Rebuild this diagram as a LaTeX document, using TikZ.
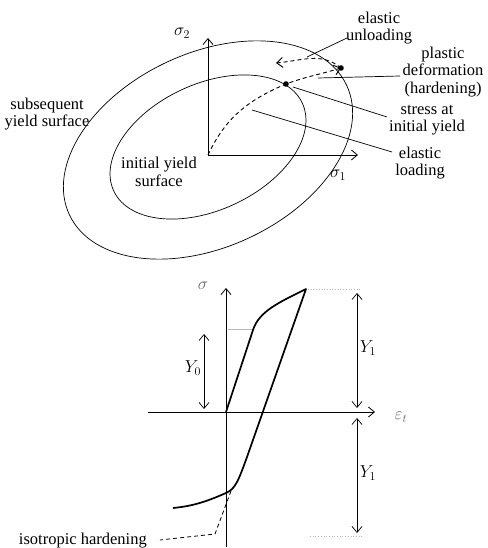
\documentclass[tikz,border=0pt]{standalone}
\usepackage{fontspec}
\setmainfont{Liberation Serif}
\usetikzlibrary{arrows.meta}

\begin{document}
\begin{tikzpicture}[x=1pt, y=1pt,
    >={Straight Barb[length=6pt, width=10pt]},
    lbl/.style={align=center, inner sep=0pt, font=\fontsize{16.5}{17.5}\selectfont},
    axis/.style={line width=0.8pt},
    thinline/.style={line width=0.7pt},
    loadpath/.style={line width=0.9pt, dash pattern=on 4pt off 3pt},
    curve/.style={line width=1.7pt, line join=round},
    guide/.style={gray!55, line width=0.7pt}]

  \useasboundingbox (0,0) rectangle (487,548);

  % --- Yield surfaces ---
  \coordinate (O) at (208,393);
  \draw[thinline, rotate around={25:(208,398)}] (208,398) ellipse [x radius=153pt, y radius=97pt];
  \draw[thinline, rotate around={25:(208,401)}] (208,401) ellipse [x radius=104pt, y radius=63pt];

  % --- Stress axes ---
  \draw[axis,->] (O) -- (208,510) coordinate (s2tip);
  \draw[axis,->] (O) -- (358,393) coordinate (s1tip);
  \node[lbl] (s2) at (182,515) {$\sigma_2$};
  \node[lbl] (s1) at (338,373) {$\sigma_1$};

  % --- Loading path ---
  \coordinate (yield) at (286,464);
  \coordinate (plastic) at (341,480);
  \coordinate (unload) at (276,485);
  \draw[loadpath,->] (O) to[out=65, in=203] (yield) to[out=20, in=197] (plastic);
  \draw[loadpath,->] (plastic) to[out=140, in=5] (unload);
  \fill (yield) circle (2.8pt);
  \fill (plastic) circle (2.8pt);

  % --- Labels and leaders ---
  \node[lbl] (elunl) at (379,520) {elastic\\unloading};
  \node[lbl] (plast) at (443,476) {plastic\\deformation\\(hardening)};
  \node[lbl] (stress) at (427,428) {stress at\\initial yield};
  \node[lbl] (elload) at (420,385) {elastic\\loading};
  \node[lbl] (subs) at (47,434) {subsequent\\yield surface};
  \node[lbl] (init) at (159,376) {initial yield\\surface};

  \coordinate (a1) at (307,491); \coordinate (b1) at (347,510);
  \coordinate (a2) at (318,470); \coordinate (b2) at (400,472);
  \coordinate (a3) at (293,461); \coordinate (b3) at (387,431);
  \coordinate (a4) at (252,438); \coordinate (b4) at (392,396);
  \foreach \i in {1,...,4} {
    \draw[thinline] (a\i) -- (b\i);
  }

  % --- Stress-strain axes ---
  \coordinate (P) at (226,136);
  \draw[axis,->] (226,1) -- (226,260) coordinate (sigtip);
  \draw[axis,->] (148,136) -- (375,136) coordinate (epstip);
  \node[lbl, text=black!60] (sig) at (203,262) {$\sigma$};
  \node[lbl, text=black!60] (eps) at (401,131) {$\varepsilon_t$};

  % --- Guide lines ---
  \draw[guide, dotted] (308,259) -- (362,259);
  \draw[guide] (228,219) -- (253,219);
  \draw[guide, dotted] (310,12) -- (362,12);

  % --- Stress-strain curve ---
  \coordinate (Y0pt) at (253,218);
  \coordinate (top) at (306,259);
  \coordinate (rev) at (226,55);
  \draw[curve] (P) -- (Y0pt) .. controls (259,237) and (280,246) .. (top)
    -- (247,91) .. controls (238,66) and (235,59) .. (rev)
    .. controls (210,48) and (195,42) .. (173,40);

  % --- Isotropic hardening ---
  \coordinate (isoA) at (231,57);
  \coordinate (isoB) at (215,14);
  \coordinate (isoC) at (160,8);
  \draw[loadpath, line width=0.8pt] (isoA) -- (isoB) -- (isoC);
  \node[lbl, anchor=base east] (iso) at (147,4) {isotropic hardening};

  % --- Yield stress spans ---
  \draw[thinline,<->] (204,214) -- (204,139);
  \node[lbl] (y0) at (193,180) {$Y_0$};
  \draw[thinline,<->] (357,255) -- (357,140);
  \node[lbl] (y1a) at (368,200) {$Y_1$};
  \draw[thinline,<->] (357,130) -- (357,15);
  \node[lbl] (y1b) at (368,75) {$Y_1$};

\end{tikzpicture}
\end{document}
